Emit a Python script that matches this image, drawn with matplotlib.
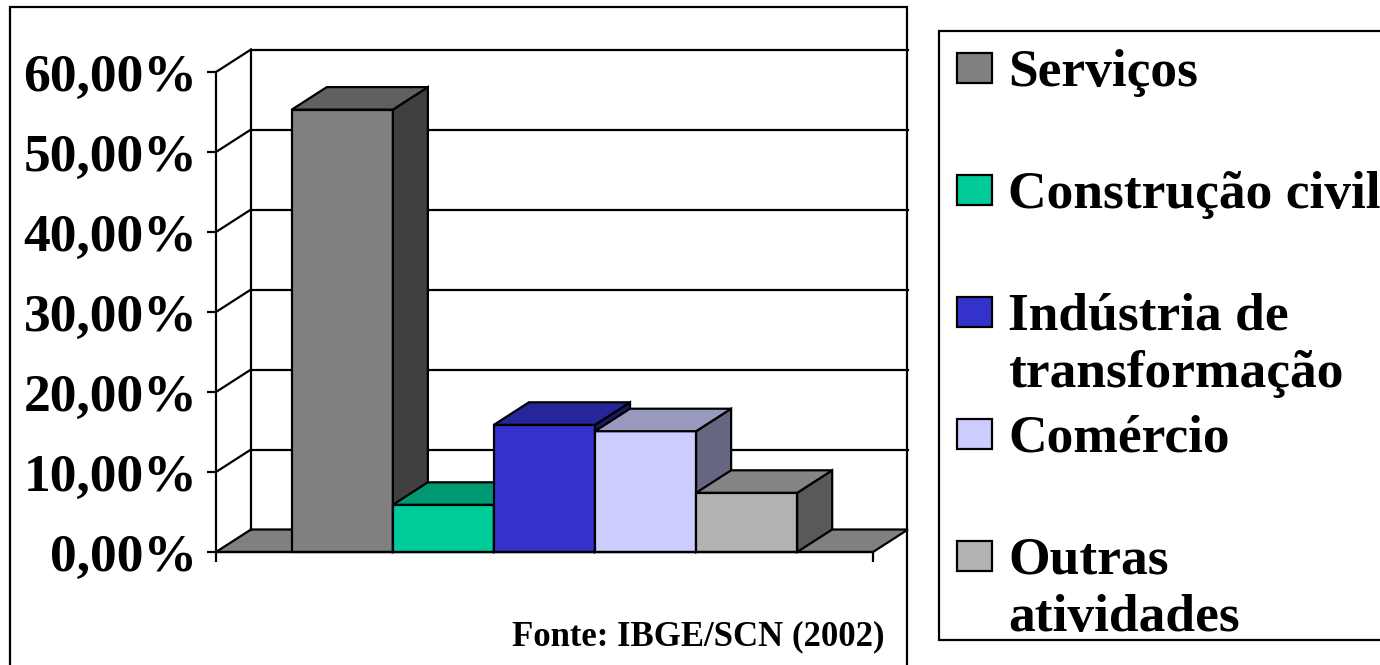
import matplotlib
matplotlib.use("Agg")
import matplotlib.pyplot as plt
from matplotlib.patches import Rectangle, Polygon
from matplotlib.lines import Line2D

# --- data -------------------------------------------------------------
sectors = ["Serviços", "Construção civil", "Indústria de\ntransformação",
           "Comércio", "Outras\natividades"]
shares = [55.3, 5.9, 15.9, 15.1, 7.4]          # % of total
face_colors = ["#808080", "#00CC99", "#3333CC", "#CCCCFF", "#B2B2B2"]
y_ticks = [0, 10, 20, 30, 40, 50, 60]
y_tick_labels = ["0,00%", "10,00%", "20,00%", "30,00%", "40,00%",
                 "50,00%", "60,00%"]
source_note = "Fonte: IBGE/SCN (2002)"

plt.rcParams["font.family"] = ["Liberation Serif", "DejaVu Serif"]
plt.rcParams["font.weight"] = "bold"

W, H = 1380, 665
fig = plt.figure(figsize=(W / 100, H / 100), dpi=100)


def fx(px):
    return px / W


def fy(py):
    return 1 - py / H


def shade(color, k):
    r, g, b = matplotlib.colors.to_rgb(color)
    return (r * k, g * k, b * k)


LW = 1.6
EDGE = "black"

# front plane of the pseudo-3D plot
ax = fig.add_axes([fx(216), fy(552), fx(873) - fx(216), fy(72) - fy(552)])
xmin, xmax = -1.25, len(shares) - 1 + 1.25
ax.set_xlim(xmin, xmax)
ax.set_ylim(0, 60)
ax.set_facecolor("none")
for side in ("top", "right"):
    ax.spines[side].set_visible(False)
for side in ("left", "bottom"):
    ax.spines[side].set_linewidth(LW)
    ax.spines[side].set_zorder(30)

ax.set_yticks(y_ticks)
ax.set_yticklabels(y_tick_labels, fontsize=38.5, fontweight="bold")
ax.tick_params(axis="y", length=6.5, width=LW, pad=7, direction="out")
ax.set_xticks([xmin, xmax])
ax.set_xticklabels(["", ""])
ax.tick_params(axis="x", length=7, width=LW, direction="out")

# depth offset (data units) of the oblique projection
px_per_x = (873 - 216) / (xmax - xmin)
px_per_y = (552 - 72) / 60.0
DX = 35 / px_per_x
DY = 22.5 / px_per_y

# floor
ax.add_patch(Polygon([(xmin, 0), (xmax, 0), (xmax + DX, DY), (xmin + DX, DY)],
                     closed=True, facecolor="#808080", edgecolor=EDGE,
                     linewidth=LW, clip_on=False, zorder=1))

# back wall and left wall gridlines
for v in y_ticks[1:]:
    ax.add_line(Line2D([xmin + DX, xmax + DX], [v + DY, v + DY], color=EDGE,
                       linewidth=LW, clip_on=False, zorder=2))
    ax.add_line(Line2D([xmin, xmin + DX], [v, v + DY], color=EDGE,
                       linewidth=LW, clip_on=False, zorder=2))
ax.add_line(Line2D([xmin + DX, xmin + DX], [DY, y_ticks[-1] + DY], color=EDGE,
                   linewidth=LW, clip_on=False, zorder=2))

# bars (front, side, top), painted left to right
for i, (v, c) in enumerate(zip(shares, face_colors)):
    x0, x1 = i - 0.5, i + 0.5
    z = 10 + i
    ax.add_patch(Rectangle((x0, 0), x1 - x0, v, facecolor=c, edgecolor=EDGE,
                           linewidth=LW, clip_on=False, zorder=z))
    ax.add_patch(Polygon([(x1, 0), (x1 + DX, DY), (x1 + DX, v + DY), (x1, v)],
                         closed=True, facecolor=shade(c, 0.5), edgecolor=EDGE,
                         linewidth=LW, clip_on=False, zorder=z))
    ax.add_patch(Polygon([(x0, v), (x1, v), (x1 + DX, v + DY), (x0 + DX, v + DY)],
                         closed=True, facecolor=shade(c, 0.75), edgecolor=EDGE,
                         linewidth=LW, clip_on=False, zorder=z))

# chart area border
fig.patches.append(Rectangle((fx(10), fy(700)), fx(907) - fx(10), fy(7) - fy(700),
                             transform=fig.transFigure, facecolor="none",
                             edgecolor=EDGE, linewidth=LW))

# source note
fig.text(fx(884), fy(645), source_note, ha="right", va="baseline",
         fontsize=25, fontweight="bold")

# legend
fig.patches.append(Rectangle((fx(939), fy(640)), fx(1400) - fx(939), fy(31) - fy(640),
                             transform=fig.transFigure, facecolor="white",
                             edgecolor=EDGE, linewidth=LW))
first_center = 68
step = 122
line_gap = 57
for k, (label, c) in enumerate(zip(sectors, face_colors)):
    cy = first_center + k * step
    fig.patches.append(Rectangle((fx(957), fy(cy + 15)), fx(992) - fx(957),
                                 fy(cy - 15) - fy(cy + 15),
                                 transform=fig.transFigure, facecolor=c,
                                 edgecolor=EDGE, linewidth=LW))
    for j, line in enumerate(label.split("\n")):
        fig.text(fx(1008), fy(cy + 18 + j * line_gap), line, ha="left",
                 va="baseline", fontsize=38.5, fontweight="bold")

fig.savefig("out.png", dpi=100)
